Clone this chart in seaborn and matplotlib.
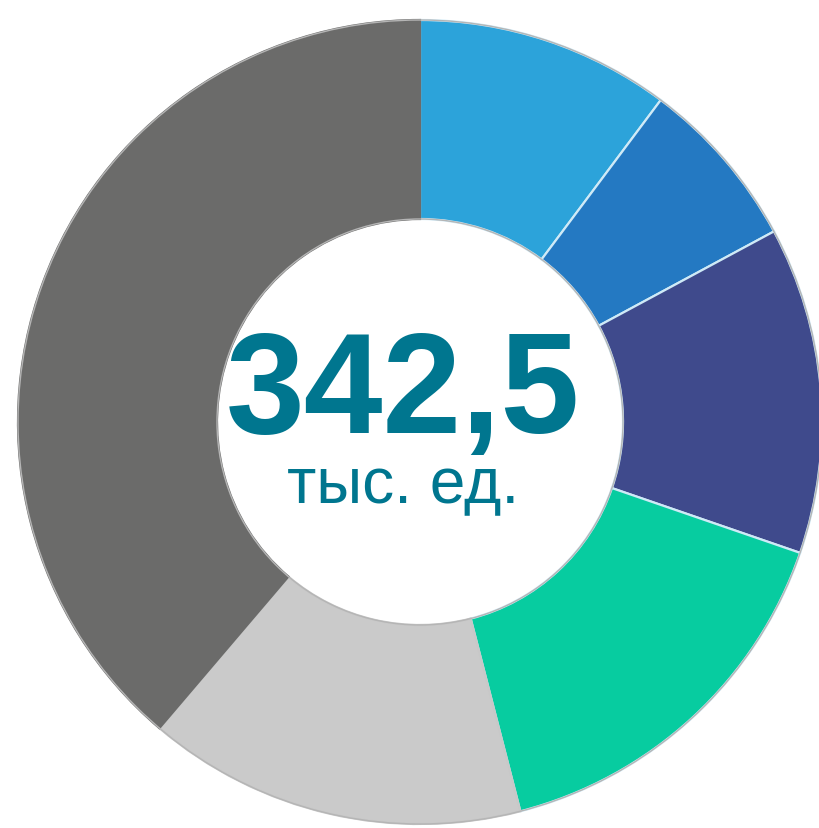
import matplotlib
matplotlib.use("Agg")
import matplotlib.pyplot as plt
import seaborn as sns

# доли сегментов (тыс. ед.), по часовой стрелке от верха
segments = ["Сегмент 1", "Сегмент 2", "Сегмент 3", "Сегмент 4", "Сегмент 5", "Сегмент 6"]
values = [35.0, 23.7, 45.0, 53.8, 52.2, 132.8]
seg_colors = ["#2ca3da", "#2479c2", "#3f4a8c", "#07cca0", "#cacaca", "#6b6b6a"]
edge_colors = ["#cfeaf7", "#cfeaf7", "#cfeaf7", "#cfeaf7", "#c8c8c8", "#6b6b6a"]
total_label = "342,5"
unit_label = "тыс. ед."

sns.set_style("white")
plt.rcParams["font.family"] = ["Liberation Sans", "DejaVu Sans"]

fig = plt.figure(figsize=(8.2, 8.29), dpi=100)
ax = fig.add_axes([0, 0, 1, 1])

palette = sns.color_palette(seg_colors)
wedges, _ = ax.pie(values, colors=palette, startangle=90, counterclock=False,
                   radius=1.0, wedgeprops=dict(width=0.495, linewidth=1.6))
for w, ec in zip(wedges, edge_colors):
    w.set_edgecolor(ec)

# тонкий серый контур кольца
for r in (1.0, 0.505):
    ax.add_patch(plt.Circle((0, 0), r, fill=False, edgecolor="#b5b5b5", linewidth=1.0))

ax.text(-0.042, 0.066, total_label, ha="center", va="center", fontsize=102,
        fontweight="bold", color="#00768f")
ax.text(-0.042, -0.158, unit_label, ha="center", va="center", fontsize=46,
        color="#00768f")

# центр кольца в пикселях (420, 423), радиус 402
ax.set_xlim(-420 / 402, 400 / 402)
ax.set_ylim(-406 / 402, 423 / 402)
ax.set_aspect("equal")
ax.axis("off")

fig.savefig("out.png", dpi=100, facecolor="white")
